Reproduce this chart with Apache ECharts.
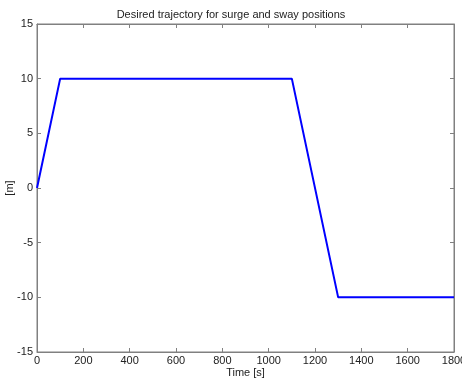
<!DOCTYPE html>
<html>
<head>
<meta charset="utf-8">
<script src="https://cdn.jsdelivr.net/npm/echarts@6/dist/echarts.min.js"></script>
<style>
html,body{margin:0;padding:0;background:#fff;}
#main{width:462px;height:379px;}
</style>
</head>
<body>
<div id="main"></div>
<script>
var time_s = [0, 100, 1100, 1300, 1800];
var pos_m = [0, 10, 10, -10, -10];
var xTicks = [0, 200, 400, 600, 800, 1000, 1200, 1400, 1600, 1800];
var yTicks = [-15, -10, -5, 0, 5, 10, 15];

var myChart = echarts.init(document.getElementById('main'));
var pts = [];
for (var i = 0; i < time_s.length; i++) {
    pts.push([time_s[i], pos_m[i]]);
}
var fnt = 'Liberation Sans, Arial, sans-serif';
var axCol = '#808080';

// bottom/top share the same setup, only the bottom one has labels
function mkX(pos, main) {
    return {
        type: 'value',
        position: pos,
        min: xTicks[0],
        max: xTicks[xTicks.length - 1],
        interval: 200,
        name: main ? 'Time [s]' : '',
        nameLocation: 'middle',
        nameGap: 15,
        nameMoveOverlap: false,
        nameTextStyle: { fontFamily: fnt, fontSize: 11, color: '#222' },
        axisLine: { show: true, onZero: false, lineStyle: { color: axCol, width: 1 } },
        axisTick: { show: true, inside: true, length: 4, lineStyle: { color: axCol, width: 1 } },
        axisLabel: { show: main, fontFamily: fnt, fontSize: 11, color: '#222', margin: 3,
            formatter: function (v) { return String(v); } },
        splitLine: { show: false }
    };
}
function mkY(pos, main) {
    return {
        type: 'value',
        position: pos,
        min: yTicks[0],
        max: yTicks[yTicks.length - 1],
        interval: 5,
        name: main ? '[m]' : '',
        nameLocation: 'middle',
        nameGap: 22,
        nameMoveOverlap: false,
        nameTextStyle: { fontFamily: fnt, fontSize: 11, color: '#222' },
        axisLine: { show: true, onZero: false, lineStyle: { color: axCol, width: 1 } },
        axisTick: { show: true, inside: true, length: 4, lineStyle: { color: axCol, width: 1 } },
        axisLabel: { show: main, fontFamily: fnt, fontSize: 11, color: '#222', margin: 4 },
        splitLine: { show: false }
    };
}

myChart.setOption({
    animation: false,
    backgroundColor: '#fff',
    title: {
        text: 'Desired trajectory for surge and sway positions',
        left: 'center',
        top: 4,
        textStyle: { fontFamily: fnt, fontSize: 11, fontWeight: 'normal', color: '#222' }
    },
    grid: { left: 37, right: 8, top: 24, bottom: 27, containLabel: false, outerBoundsMode: 'none',
        show: true, borderColor: axCol, borderWidth: 1, backgroundColor: 'transparent' },
    xAxis: [mkX('bottom', true), mkX('top', false)],
    yAxis: [mkY('left', true), mkY('right', false)],
    series: [{
        type: 'line',
        data: pts,
        symbol: 'none',
        lineStyle: { color: '#0000ff', width: 2 }
    }]
});
</script>
</body>
</html>
